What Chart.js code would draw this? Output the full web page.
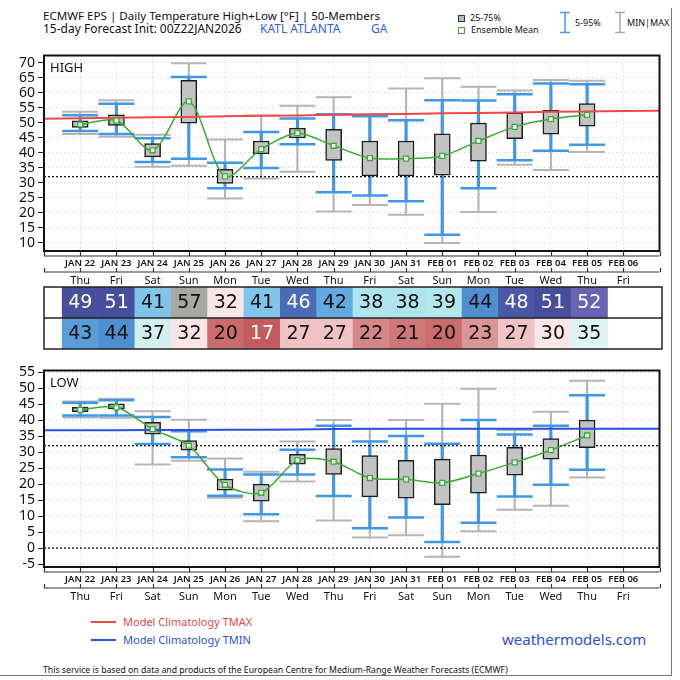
<!DOCTYPE html>
<html>
<head>
<meta charset="utf-8">
<script src="https://cdn.jsdelivr.net/npm/chart.js@4.4.1/dist/chart.umd.min.js"></script>
<style>
  html, body { margin: 0; padding: 0; background: #fff; }
  body { width: 680px; height: 680px; position: relative; overflow: hidden; font-family: 'Noto Sans', sans-serif; color: #111; }
  .t { position: absolute; white-space: nowrap; line-height: 1; }
  canvas { position: absolute; left: 0; }
</style>
</head>
<body>

<div class="t" style="left:43px;top:10px;font-size:11.6px">ECMWF EPS | Daily Temperature High+Low [°F] | 50-Members</div>
<div class="t" style="left:43px;top:23px;font-size:12px">15-day Forecast Init: 00Z22JAN2026</div>
<div class="t" style="left:260px;top:23px;font-size:12px;color:#2a5ee6">KATL ATLANTA</div>
<div class="t" style="left:371px;top:23px;font-size:12px;color:#2a5ee6">GA</div>

<div style="position:absolute;left:458px;top:15px;width:5px;height:5px;border:1.5px solid #333;background:#bbb"></div>
<div class="t" style="left:470px;top:13px;font-size:9px">25-75%</div>
<div style="position:absolute;left:458px;top:27px;width:5px;height:5px;border:1.5px solid #3aaa35;background:#fff"></div>
<div class="t" style="left:471px;top:25px;font-size:9px">Ensemble Mean</div>
<svg style="position:absolute;left:558px;top:11px" width="14" height="24"><path d="M2 1.5h10M7 1.5v20M2 21.5h10" stroke="#4a9be8" stroke-width="1.5" fill="none"/></svg>
<div class="t" style="left:575px;top:18px;font-size:9px">5-95%</div>
<svg style="position:absolute;left:613px;top:11px" width="14" height="24"><path d="M2 1.5h10M7 1.5v20M2 21.5h10" stroke="#aaa" stroke-width="1.5" fill="none"/></svg>
<div class="t" style="left:627px;top:18px;font-size:9px">MIN|MAX</div>

<canvas id="high" width="680" height="251" style="top:35px"></canvas>
<canvas id="table" width="680" height="68" style="top:284px"></canvas>
<canvas id="low" width="680" height="252" style="top:350px"></canvas>

<div style="position:absolute;left:91px;top:621px;width:25px;height:2px;background:#e84a4a"></div>
<div class="t" style="left:123px;top:616px;font-size:11px;color:#e84848">Model Climatology TMAX</div>
<div style="position:absolute;left:91px;top:639px;width:25px;height:2px;background:#2f4fe0"></div>
<div class="t" style="left:123px;top:634px;font-size:11px;color:#2f4fe0">Model Climatology TMIN</div>
<div class="t" style="left:502px;top:632px;font-size:15px;color:#2a4fd8">weathermodels.com</div>
<div class="t" style="left:43px;top:666px;font-size:8.7px">This service is based on data and products of the European Centre for Medium-Range Weather Forecasts (ECMWF)</div>

<div style="position:absolute;left:0;top:8px;width:671px;height:667px;border-right:1.5px solid #777;border-bottom:1.5px solid #777"></div>

<script>
// categories
const dates = ['JAN 22', 'JAN 23', 'JAN 24', 'JAN 25', 'JAN 26', 'JAN 27', 'JAN 28', 'JAN 29',
  'JAN 30', 'JAN 31', 'FEB 01', 'FEB 02', 'FEB 03', 'FEB 04', 'FEB 05', 'FEB 06'];
const weekdays = ['Thu', 'Fri', 'Sat', 'Sun', 'Mon', 'Tue', 'Wed', 'Thu',
  'Fri', 'Sat', 'Sun', 'Mon', 'Tue', 'Wed', 'Thu', 'Fri'];

// tick labels
const highTicks = [10, 15, 20, 25, 30, 35, 40, 45, 50, 55, 60, 65, 70];
const lowTicks = [-5, 0, 5, 10, 15, 20, 25, 30, 35, 40, 45, 50, 55];

// HIGH (°F)
const highMin  = [46.2, 45.3, 35.3, 35.6, 24.7, 31.4, 33.6, 20.4, 22.5, 19.3, 9.9, 20.2, 36.0, 34.2, 40.2];
const highP05  = [47.2, 46.2, 36.9, 38.0, 28.1, 34.9, 42.8, 26.8, 25.7, 23.8, 12.6, 28.1, 37.5, 40.6, 42.6];
const highP25  = [48.4, 49.1, 38.6, 49.8, 29.7, 39.6, 44.9, 37.4, 32.2, 32.2, 32.5, 37.2, 44.7, 46.2, 48.8];
const highMean = [49.4, 50.7, 40.8, 57.1, 32.1, 41.2, 46.5, 42.3, 38.2, 38.0, 38.9, 43.9, 48.6, 51.2, 52.6];
const highP75  = [50.6, 52.6, 43.0, 64.1, 34.4, 43.9, 48.2, 47.8, 43.9, 43.9, 46.3, 49.9, 53.3, 54.1, 56.4];
const highP95  = [52.5, 56.3, 44.8, 65.2, 36.6, 46.9, 51.4, 52.8, 52.1, 50.8, 57.5, 57.4, 59.5, 63.1, 62.8];
const highMax  = [53.6, 57.5, 46.0, 69.8, 44.4, 52.4, 55.6, 58.5, 52.6, 61.4, 64.8, 62.0, 60.7, 64.2, 64.0];

// LOW (°F)
const lowMin  = [40.8, 40.7, 26.1, 27.3, 15.7, 8.4, 20.8, 8.6, 3.3, 4.0, -2.7, 5.3, 12.0, 13.2, 22.1];
const lowP05  = [41.4, 41.4, 32.5, 28.4, 16.4, 10.6, 23.0, 16.3, 6.2, 9.6, 1.9, 7.9, 16.1, 19.8, 24.5];
const lowP25  = [42.6, 43.5, 35.6, 30.6, 18.1, 14.7, 26.2, 23.0, 16.0, 15.6, 13.6, 17.2, 22.8, 27.8, 31.4];
const lowMean = [43.2, 44.0, 37.2, 32.0, 19.8, 17.3, 27.4, 27.0, 21.9, 21.5, 20.4, 23.3, 26.8, 30.6, 35.2];
const lowP75  = [44.0, 45.1, 39.3, 33.6, 21.6, 20.0, 29.3, 31.1, 28.9, 27.4, 27.8, 29.1, 31.5, 34.2, 40.0];
const lowP95  = [45.4, 46.2, 41.0, 36.5, 24.6, 23.0, 30.7, 38.2, 33.3, 35.0, 32.6, 40.0, 35.5, 38.2, 47.8];
const lowMax  = [45.8, 46.7, 42.8, 40.1, 28.0, 23.9, 33.3, 40.0, 37.2, 40.0, 45.1, 49.8, 36.9, 42.6, 52.3];

// model climatology, one value per day from JAN 21 to FEB 07 (edge to edge)
const climTmax = [51.3, 51.5, 51.6, 51.8, 51.9, 52.1, 52.3, 52.4, 52.6, 52.8, 52.9, 53.1, 53.2, 53.4, 53.6, 53.7, 53.9, 54.0];
const climTmin = [36.8, 36.8, 36.8, 36.9, 36.9, 37.0, 37.0, 37.1, 37.2, 37.3, 37.3, 37.3, 37.3, 37.3, 37.3, 37.3, 37.3, 37.3];

// table rows
const highTable = [49, 51, 41, 57, 32, 41, 46, 42, 38, 38, 39, 44, 48, 51, 52];
const lowTable  = [43, 44, 37, 32, 20, 17, 27, 27, 22, 21, 20, 23, 27, 30, 35];

const freezing = 32;
const zeroF = 0;

const xMin = -1;
const xMax = dates.length;
const xTicks = [xMin].concat(dates.map((d, i) => i), [xMax]);

const FONT = 'Noto Sans';

// colour scale of the table cells
const palette = [
  [15, '#bf4f55'], [17, '#c45b5f'], [20, '#ca6b6d'], [21, '#cf787a'], [22, '#d48689'],
  [23, '#da9598'], [27, '#efc3c6'], [30, '#fce6e8'], [32, '#f9e4e7'], [35, '#e0f4f3'],
  [37, '#d3f0f1'], [38, '#aee5ed'], [39, '#b2e7ee'], [41, '#80c4e9'], [42, '#62aadf'],
  [44, '#4f8fd0'], [46, '#4a6cb6'], [48, '#4a58a6'], [49, '#474f9c'], [51, '#474f9c'],
  [52, '#6a62b2'], [55, '#928ea6'], [57, '#a8a8a2']
];
function hex(c) { return [1, 3, 5].map(k => parseInt(c.substr(k, 2), 16)); }
function cellColor(v) {
  if (v <= palette[0][0]) return palette[0][1];
  for (let i = 1; i < palette.length; i++) {
    if (v <= palette[i][0]) {
      const [v0, c0] = palette[i - 1], [v1, c1] = palette[i];
      const t = (v - v0) / (v1 - v0), a = hex(c0), b = hex(c1);
      return 'rgb(' + a.map((q, k) => Math.round(q + (b[k] - q) * t)).join(',') + ')';
    }
  }
  return palette[palette.length - 1][1];
}
function cellText(v) { return (v <= 18 || (v >= 46 && v <= 53)) ? '#fff' : '#111'; }

// frame, tick rulers under the plot, panel name
const framePlugin = {
  id: 'frame',
  afterDraw(chart, args, opts) {
    const { ctx, chartArea: a } = chart;
    const xs = chart.scales.x;
    ctx.save();
    ctx.strokeStyle = '#111';
    ctx.lineWidth = 2;
    ctx.strokeRect(a.left, a.top, a.right - a.left, a.bottom - a.top);
    ctx.lineWidth = 1.2;
    ctx.strokeStyle = '#333';
    [a.bottom + 5, a.bottom + 21].forEach(y => {
      ctx.beginPath();
      ctx.moveTo(a.left, y);
      ctx.lineTo(a.right, y);
      xTicks.forEach(v => {
        const px = Math.round(xs.getPixelForValue(v)) + 0.5;
        ctx.moveTo(px, y);
        ctx.lineTo(px, y - 4);
      });
      ctx.stroke();
    });
    ctx.fillStyle = '#111';
    ctx.font = '13px "' + FONT + '"';
    ctx.textBaseline = 'middle';
    ctx.fillText(opts.label, a.left + 6, a.top + 13);
    ctx.restore();
  }
};

function boxChart(id, o) {
  const pts = arr => arr.map((v, i) => ({ x: i, y: v }));
  const rng = (lo, hi) => lo.map((v, i) => ({ x: i, y: [v, hi[i]] }));
  const edge = arr => arr.map((v, i) => ({ x: xMin + i, y: v }));
  const refs = o.refs.map(r => ({
    type: 'line', data: [{ x: xMin, y: r }, { x: xMax, y: r }],
    borderColor: '#111', borderWidth: 1.3, borderDash: [2, 2], pointRadius: 0, order: 3
  }));

  return new Chart(document.getElementById(id), {
    type: 'bar',
    data: {
      datasets: [
        {
          type: 'line', data: pts(o.mean), borderColor: '#3aaa35', borderWidth: 1.5,
          tension: 0.3, pointStyle: 'rect', pointRadius: 3.5, pointBorderWidth: 1.3,
          pointBackgroundColor: '#f2fbef', pointBorderColor: '#3aaa35', order: 0
        },
        { type: 'line', data: edge(o.clim), borderColor: o.climColor, borderWidth: 2, pointRadius: 0, order: 1 },
        {
          data: rng(o.p25, o.p75), backgroundColor: '#c3c3c3', borderColor: '#1c1c1c',
          borderWidth: 1.5, borderSkipped: false, barThickness: 16, grouped: false, order: 2
        },
        ...refs,
        {
          type: 'scatter', data: pts(o.p05).concat(pts(o.p95)), pointStyle: 'line',
          pointRadius: 18, pointBorderWidth: 2.5, pointBorderColor: '#3f97e6', order: 4
        },
        { data: rng(o.p05, o.p95), backgroundColor: '#3f97e6', barThickness: 2.5, grouped: false, order: 5 },
        {
          type: 'scatter', data: pts(o.min).concat(pts(o.max)), pointStyle: 'line',
          pointRadius: 18, pointBorderWidth: 2, pointBorderColor: '#b5b5b5', order: 6
        },
        { data: rng(o.min, o.max), backgroundColor: '#b5b5b5', barThickness: 1.5, grouped: false, order: 7 }
      ]
    },
    options: {
      responsive: false,
      animation: false,
      events: [],
      layout: { padding: { top: 4, right: 18, left: 0, bottom: 0 } },
      plugins: { legend: { display: false }, tooltip: { enabled: false }, frame: { label: o.label } },
      scales: {
        x: {
          type: 'linear', position: 'bottom', weight: 0, min: xMin, max: xMax, offset: false,
          afterBuildTicks: s => { s.ticks = xTicks.map(v => ({ value: v })); },
          afterFit: s => { s.height = 17; },
          grid: { color: '#cfcfcf', lineWidth: 1, drawTicks: false, offset: false },
          border: { display: false, dash: [1, 3] },
          ticks: {
            autoSkip: false, maxRotation: 0, padding: 7, color: '#111',
            font: { family: FONT, size: 9.5, weight: '600' },
            callback: v => dates[v] ?? ''
          }
        },
        x2: {
          type: 'linear', axis: 'x', position: 'bottom', weight: 1, min: xMin, max: xMax, offset: false,
          afterBuildTicks: s => { s.ticks = xTicks.map(v => ({ value: v })); },
          afterFit: s => { s.height = 18; },
          grid: { display: false, drawTicks: false },
          border: { display: false },
          ticks: {
            autoSkip: false, maxRotation: 0, padding: 6, color: '#111',
            font: { family: FONT, size: 11 },
            callback: v => weekdays[v] ?? ''
          }
        },
        y: {
          type: 'linear', min: o.yMin, max: o.yMax,
          afterBuildTicks: s => { s.ticks = o.ticks.map(v => ({ value: v })); },
          afterFit: s => { s.width = 44; },
          grid: { color: '#cfcfcf', lineWidth: 1, tickColor: '#222', tickLength: 6, tickBorderDash: [] },
          border: { display: false, dash: [1, 3] },
          ticks: { autoSkip: false, padding: 3, color: '#111', font: { family: FONT, size: 14 } }
        }
      }
    },
    plugins: [framePlugin]
  });
}

boxChart('high', {
  label: 'HIGH', yMin: 7.2, yMax: 72.4, ticks: highTicks,
  min: highMin, p05: highP05, p25: highP25, mean: highMean, p75: highP75, p95: highP95, max: highMax,
  clim: climTmax, climColor: '#f04848', refs: [freezing]
});

boxChart('low', {
  label: 'LOW', yMin: -5.9, yMax: 55.5, ticks: lowTicks,
  min: lowMin, p05: lowP05, p25: lowP25, mean: lowMean, p75: lowP75, p95: lowP95, max: lowMax,
  clim: climTmin, climColor: '#2b4de0', refs: [freezing, zeroF]
});

// table of rounded means, one coloured cell per day
const tablePlugin = {
  id: 'cells',
  afterDatasetsDraw(chart) {
    const { ctx, chartArea: a } = chart;
    ctx.save();
    ctx.font = '19px "DejaVu Sans"';
    ctx.textAlign = 'center';
    ctx.textBaseline = 'middle';
    chart.data.datasets.forEach((ds, d) => {
      chart.getDatasetMeta(d).data.forEach((el, i) => {
        const v = ds.values[i];
        ctx.fillStyle = cellText(v);
        ctx.fillText(String(v), el.x, (el.y + el.base) / 2 + 1);
      });
    });
    const mid = chart.scales.y.getPixelForValue(1);
    ctx.strokeStyle = '#222';
    ctx.lineWidth = 1.5;
    ctx.strokeRect(a.left, a.top, a.right - a.left, a.bottom - a.top);
    ctx.beginPath();
    ctx.moveTo(a.left, mid);
    ctx.lineTo(a.right, mid);
    ctx.stroke();
    ctx.restore();
  }
};

new Chart(document.getElementById('table'), {
  type: 'bar',
  data: {
    datasets: [
      { values: highTable, data: highTable.map((v, i) => ({ x: i, y: [1, 2] })), backgroundColor: highTable.map(cellColor) },
      { values: lowTable, data: lowTable.map((v, i) => ({ x: i, y: [0, 1] })), backgroundColor: lowTable.map(cellColor) }
    ]
  },
  options: {
    responsive: false,
    animation: false,
    events: [],
    datasets: { bar: { grouped: false, categoryPercentage: 1, barPercentage: 1, borderWidth: 0 } },
    layout: { padding: { left: 44, right: 18, top: 3, bottom: 3 } },
    plugins: { legend: { display: false }, tooltip: { enabled: false } },
    scales: {
      x: { type: 'linear', min: xMin, max: xMax, offset: false, display: false },
      y: { min: 0, max: 2, display: false }
    }
  },
  plugins: [tablePlugin]
});
</script>
</body>
</html>
